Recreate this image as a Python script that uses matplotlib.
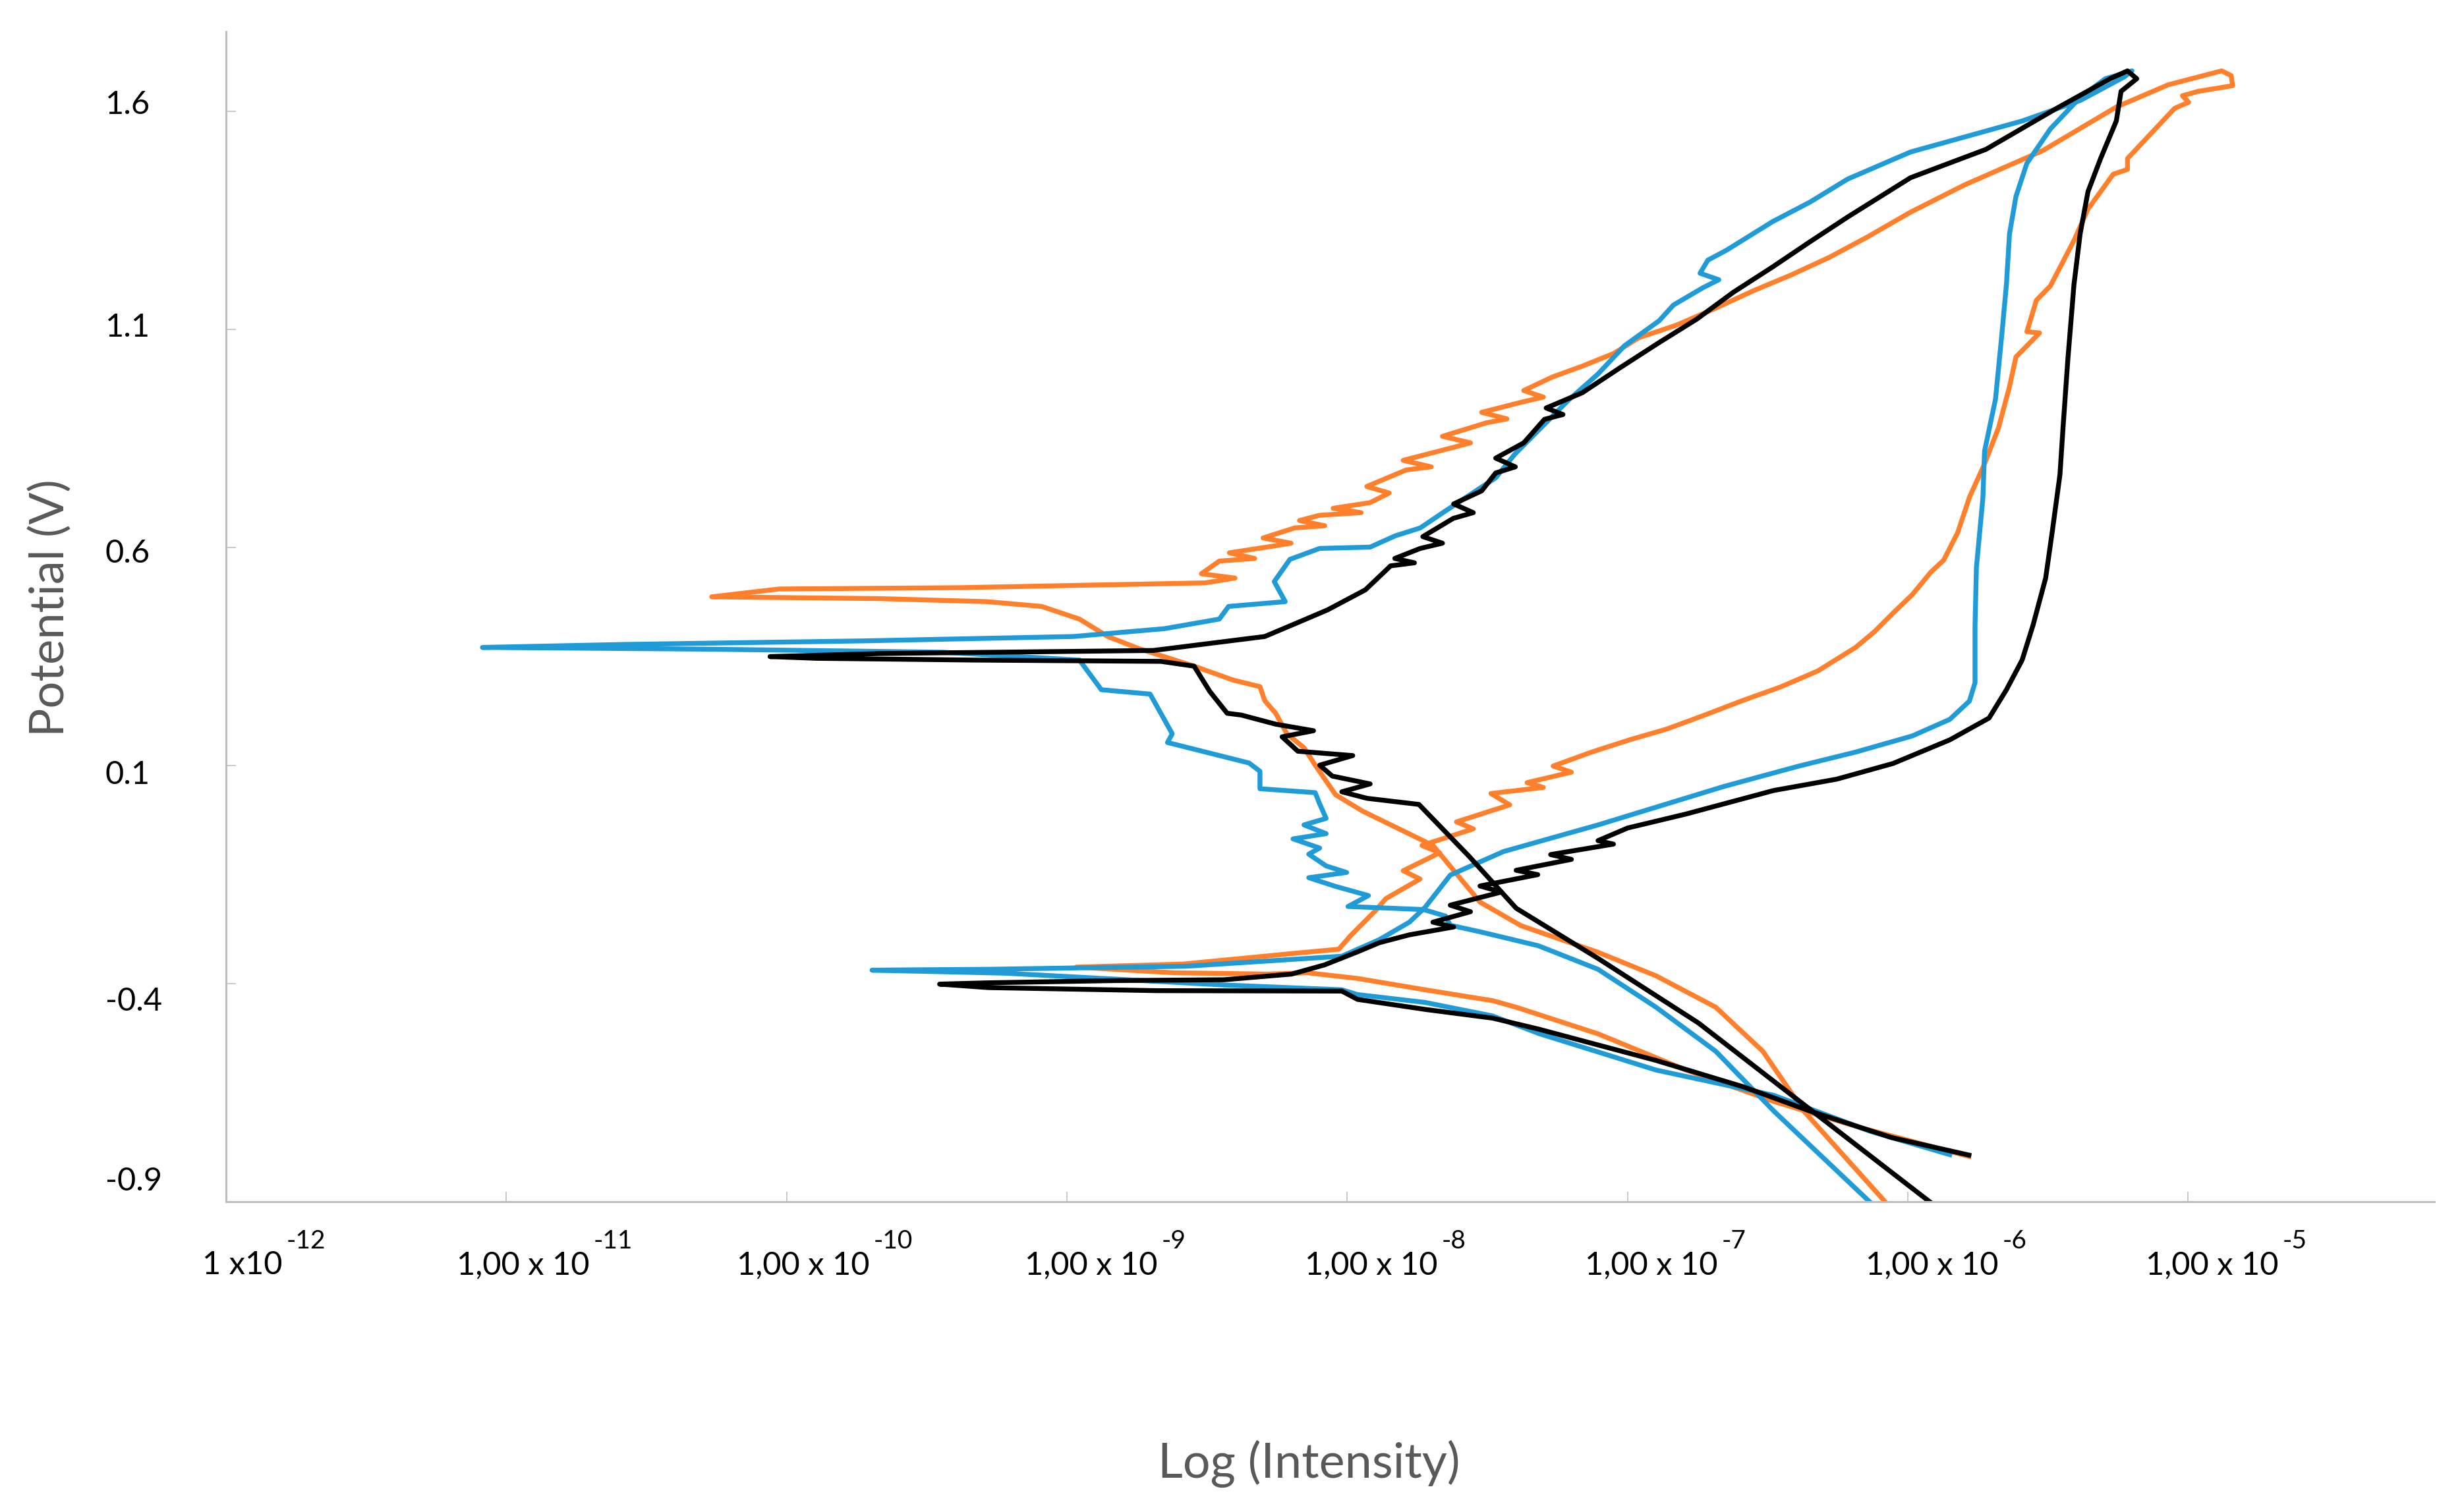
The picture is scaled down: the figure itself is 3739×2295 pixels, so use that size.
import numpy as np
import matplotlib
matplotlib.use("Agg")
import matplotlib.pyplot as plt
import matplotlib.transforms as mtransforms
from matplotlib.ticker import NullLocator

# ---- data: (log10 current [A], potential [V]), in scan order ----
orange = [(-6.035,-0.933),(-6.085,-0.897),(-6.371,-0.692),(-6.517,-0.555),(-6.685,-0.454),(-6.898,-0.382),
    (-7.105,-0.328),(-7.380,-0.267),(-7.526,-0.213),(-7.694,-0.083),(-7.946,-0.004),(-8.041,0.033),
    (-8.114,0.101),(-8.154,0.141),(-8.215,0.173),(-8.255,0.220),(-8.294,0.249),(-8.311,0.281),
    (-8.406,0.296),(-8.546,0.328),(-8.742,0.368),(-8.854,0.396),(-8.955,0.436),(-9.090,0.465),
    (-9.286,0.476),(-9.673,0.483),(-10.267,0.487),(-10.026,0.505),(-9.381,0.508),(-8.507,0.519),
    (-8.40,0.530),(-8.52,0.540),(-8.456,0.569),(-8.33,0.575),(-8.42,0.588),(-8.277,0.602),
    (-8.20,0.610),(-8.30,0.622),(-8.187,0.645),(-8.08,0.650),(-8.17,0.662),(-8.098,0.674),
    (-7.95,0.680),(-8.05,0.690),(-7.918,0.703),(-7.85,0.725),(-7.93,0.740),(-7.789,0.778),
    (-7.70,0.785),(-7.80,0.800),(-7.649,0.825),(-7.56,0.840),(-7.66,0.855),(-7.503,0.886),
    (-7.43,0.895),(-7.52,0.910),(-7.380,0.933),(-7.30,0.945),(-7.37,0.960),(-7.268,0.991),
    (-7.161,1.016),(-7.049,1.045),
    (-6.960,1.081),(-6.825,1.110),(-6.685,1.149),(-6.550,1.189),(-6.416,1.225),(-6.281,1.265),
    (-6.147,1.311),(-5.990,1.369),(-5.799,1.431),(-5.519,1.510),(-5.256,1.610),(-5.071,1.661),
    (-4.880,1.693),(-4.846,1.682),(-4.841,1.659),
    (-4.964,1.646),(-5.020,1.636),(-4.998,1.621),(-5.048,1.607),(-5.216,1.492),(-5.216,1.467),
    (-5.267,1.456),(-5.357,1.376),(-5.407,1.304),(-5.491,1.200),(-5.541,1.167),(-5.575,1.095),
    (-5.530,1.092),(-5.614,1.037),(-5.637,0.969),(-5.676,0.875),(-5.726,0.792),(-5.780,0.715),
    (-5.822,0.634),(-5.872,0.571),(-5.917,0.544),(-5.984,0.492),(-6.052,0.450),(-6.119,0.407),
    (-6.186,0.371),(-6.321,0.317),(-6.455,0.280),(-6.590,0.249),(-6.724,0.216),(-6.859,0.184),
    (-6.993,0.159),(-7.128,0.131),(-7.265,0.099),(-7.20,0.085),(-7.358,0.061),(-7.30,0.050),
    (-7.487,0.036),(-7.42,0.010),(-7.610,-0.029),(-7.55,-0.045),(-7.733,-0.083),(-7.67,-0.100),
    (-7.800,-0.141),(-7.74,-0.160),(-7.862,-0.205),(-7.901,-0.234),(-7.985,-0.288),(-8.030,-0.321),
    (-8.198,-0.331),(-8.439,-0.346),(-8.585,-0.355),(-8.966,-0.362),(-8.619,-0.375),(-8.285,-0.378),
    (-8.142,-0.375),(-7.963,-0.388),(-7.722,-0.414),(-7.481,-0.439),(-7.397,-0.454),(-7.105,-0.515),
    (-6.791,-0.598),(-6.478,-0.670),(-6.164,-0.731),(-5.782,-0.796)]

blue = [(-6.080,-0.933),(-6.141,-0.897),(-6.478,-0.692),(-6.685,-0.555),(-6.898,-0.454),(-7.105,-0.367),
    (-7.318,-0.313),(-7.526,-0.281),(-7.632,-0.266),(-7.649,-0.245),(-7.728,-0.230),(-7.997,-0.223),
    (-7.924,-0.198),(-8.041,-0.177),(-8.137,-0.157),(-8.002,-0.145),(-8.075,-0.130),(-8.137,-0.103),
    (-8.098,-0.089),(-8.193,-0.068),(-8.075,-0.056),(-8.154,-0.036),(-8.075,-0.021),(-8.098,0.012),
    (-8.114,0.038),(-8.311,0.047),(-8.311,0.087),(-8.350,0.106),(-8.641,0.153),(-8.624,0.173),
    (-8.703,0.264),(-8.877,0.274),(-8.955,0.342),(-9.443,0.360),(-10.284,0.367),(-11.085,0.371),
    (-10.564,0.378),(-9.723,0.386),(-8.977,0.396),
    (-8.652,0.414),(-8.456,0.436),(-8.423,0.465),(-8.221,0.476),(-8.260,0.522),(-8.204,0.573),
    (-8.098,0.598),(-7.918,0.601),(-7.828,0.627),(-7.739,0.645),(-7.649,0.684),(-7.470,0.760),
    (-7.402,0.814),(-7.212,0.937),(-7.105,0.998),(-7.010,1.063),(-6.887,1.120),(-6.836,1.156),
    (-6.730,1.196),(-6.674,1.214),(-6.741,1.229),(-6.713,1.259),(-6.646,1.282),(-6.483,1.347),
    (-6.349,1.392),(-6.214,1.445),(-5.990,1.507),(-5.592,1.578),(-5.385,1.625),(-5.228,1.679),
    (-5.200,1.693),
    (-5.295,1.675),(-5.385,1.632),(-5.491,1.560),(-5.575,1.481),(-5.614,1.405),(-5.637,1.319),
    (-5.648,1.203),(-5.665,1.084),(-5.687,0.940),(-5.726,0.821),(-5.732,0.713),(-5.755,0.555),
    (-5.760,0.422),(-5.760,0.342),(-5.760,0.290),(-5.780,0.248),(-5.850,0.206),(-5.984,0.168),
    (-6.186,0.131),(-6.388,0.099),(-6.657,0.052),(-7.105,-0.036),(-7.442,-0.097),(-7.632,-0.151),
    (-7.722,-0.225),(-7.778,-0.259),(-7.885,-0.299),(-8.019,-0.337),(-8.574,-0.360),(-9.280,-0.367),
    (-9.695,-0.369),(-9.219,-0.376),(-8.439,-0.403),(-8.019,-0.414),(-7.963,-0.425),(-7.722,-0.443),
    (-7.481,-0.474),(-7.313,-0.515),(-6.898,-0.598),(-6.478,-0.656),(-6.136,-0.738),(-5.850,-0.792)]

black = [(-5.855,-0.933),(-5.928,-0.897),(-6.371,-0.677),(-6.747,-0.490),(-7.105,-0.342),(-7.397,-0.227),
    (-7.565,-0.108),(-7.744,0.011),(-7.929,0.025),(-8.019,0.040),(-7.918,0.058),(-8.053,0.076),
    (-8.098,0.101),(-7.980,0.123),(-8.176,0.133),(-8.232,0.166),(-8.120,0.180),(-8.255,0.195),
    (-8.378,0.216),(-8.428,0.220),(-8.490,0.270),(-8.546,0.328),(-8.664,0.339),
    (-9.331,0.342),(-9.891,0.346),(-10.059,0.350),(-9.667,0.357),(-8.692,0.364),
    (-8.294,0.396),(-8.187,0.425),(-8.070,0.457),(-7.935,0.503),(-7.845,0.558),(-7.76,0.565),
    (-7.83,0.575),(-7.739,0.598),(-7.66,0.610),(-7.73,0.625),(-7.621,0.667),(-7.55,0.680),
    (-7.62,0.700),(-7.52,0.730),(-7.470,0.771),(-7.40,0.785),(-7.47,0.805),(-7.37,0.840),
    (-7.296,0.894),(-7.23,0.905),(-7.29,0.920),(-7.161,0.955),(-7.027,1.012),(-6.887,1.070),
    (-6.752,1.124),(-6.623,1.185),(-6.483,1.243),(-6.349,1.301),(-6.214,1.358),(-5.990,1.448),
    (-5.721,1.513),(-5.469,1.607),(-5.278,1.675),(-5.216,1.693),(-5.183,1.675),
    (-5.239,1.646),(-5.256,1.578),(-5.312,1.492),(-5.357,1.416),(-5.385,1.319),(-5.407,1.203),
    (-5.429,1.030),(-5.446,0.875),(-5.457,0.767),(-5.485,0.634),(-5.508,0.530),(-5.553,0.422),
    (-5.592,0.342),(-5.648,0.274),(-5.710,0.209),(-5.850,0.159),(-6.052,0.105),(-6.253,0.069),
    (-6.478,0.043),(-6.791,-0.011),(-6.999,-0.043),(-7.105,-0.072),(-7.05,-0.080),(-7.274,-0.104),
    (-7.20,-0.115),(-7.397,-0.140),(-7.32,-0.150),(-7.526,-0.176),(-7.45,-0.190),(-7.632,-0.220),
    (-7.56,-0.235),(-7.694,-0.259),(-7.62,-0.270),(-7.778,-0.288),(-7.885,-0.306),(-7.963,-0.327),
    (-8.081,-0.357),(-8.198,-0.378),(-8.439,-0.391),(-8.837,-0.393),(-9.280,-0.398),(-9.454,-0.401),
    (-9.280,-0.409),(-8.680,-0.416),(-8.019,-0.417),(-7.963,-0.436),(-7.722,-0.459),(-7.481,-0.479),
    (-7.318,-0.504),(-6.898,-0.576),(-6.584,-0.637),(-6.349,-0.692),(-6.057,-0.753),(-5.782,-0.793)]

series = [(orange, "#FF7F2A"), (blue, "#1F9BD7"), (black, "#000000")]

decades = [-12, -11, -10, -9, -8, -7, -6, -5]
xtick_base = ["1 x10"] + ["1,00 x 10"] * 7
xtick_sup = ["-12", "-11", "-10", "-9", "-8", "-7", "-6", "-5"]
yticks = [-0.9, -0.4, 0.1, 0.6, 1.1, 1.6]
ytick_text = ["-0.9", "-0.4", "0.1", "0.6", "1.1", "1.6"]
ytick_text_at = [-0.853, -0.441, 0.079, 0.587, 1.105, 1.615]  # labels sit a bit off the ticks in the original

W, H, DPI = 3739, 2295, 100
FONT = ["Lato", "DejaVu Sans"]
AXIS_GREY = "#BFBFBF"

fig = plt.figure(figsize=(W / DPI, H / DPI), dpi=DPI)
ax = fig.add_axes([0.0917, 0.2052, 0.8963, 0.7739])

for pts, col in series:
    li, e = zip(*pts)
    ax.plot(10.0 ** np.array(li), e, color=col, lw=5.3, solid_joinstyle="round")

ax.set_xscale("log")
ax.set_xlim(1e-12, 10 ** -4.121)
ax.set_ylim(-0.9, 1.783)
ax.set_xticks([10.0 ** k for k in decades])
ax.xaxis.set_minor_locator(NullLocator())
ax.set_xticklabels([])
ax.set_yticks(yticks)
ax.set_yticklabels([])
for s in ("top", "right"):
    ax.spines[s].set_visible(False)
for s in ("left", "bottom"):
    ax.spines[s].set_color(AXIS_GREY)
    ax.spines[s].set_linewidth(2.2)
ax.tick_params(direction="in", length=11, width=1.2, color=AXIS_GREY)

# y labels
ytr = mtransforms.blended_transform_factory(ax.transAxes, ax.transData)
for txt, y in zip(ytick_text, ytick_text_at):
    ax.text(-0.0546, y, txt, transform=ytr, ha="left", va="center",
            fontsize=35, family=FONT, color="#000000")

# x labels: "1,00 x 10" with raised exponent, group centred a little right of the tick
xtr = mtransforms.blended_transform_factory(ax.transData, fig.transFigure)
rend = fig.canvas.get_renderer()
for k, b, s in zip(decades, xtick_base, xtick_sup):
    tb = fig.text(10.0 ** k, 0.1634, b, transform=xtr, ha="left", va="center",
                  fontsize=35, family=FONT, color="#000000")
    ts = fig.text(10.0 ** k, 0.1791, s, transform=xtr, ha="left", va="center",
                  fontsize=28, family=FONT, color="#000000")
    wb = tb.get_window_extent(rend).width
    ws = ts.get_window_extent(rend).width
    gap = 6
    x0 = 58 - (wb + gap + ws) / 2
    tb.set_transform(xtr + mtransforms.ScaledTranslation(x0 / DPI, 0, fig.dpi_scale_trans))
    ts.set_transform(xtr + mtransforms.ScaledTranslation((x0 + wb + gap) / DPI, 0, fig.dpi_scale_trans))

fig.text(0.0203, 0.5978, "Potential (V)", rotation=90, ha="center", va="center",
         fontsize=52, family=FONT, color="#595959")
fig.text(0.5312, 0.0318, "Log (Intensity)", ha="center", va="center",
         fontsize=53, family=FONT, color="#595959")

fig.savefig("out.png", dpi=DPI, facecolor="white")
